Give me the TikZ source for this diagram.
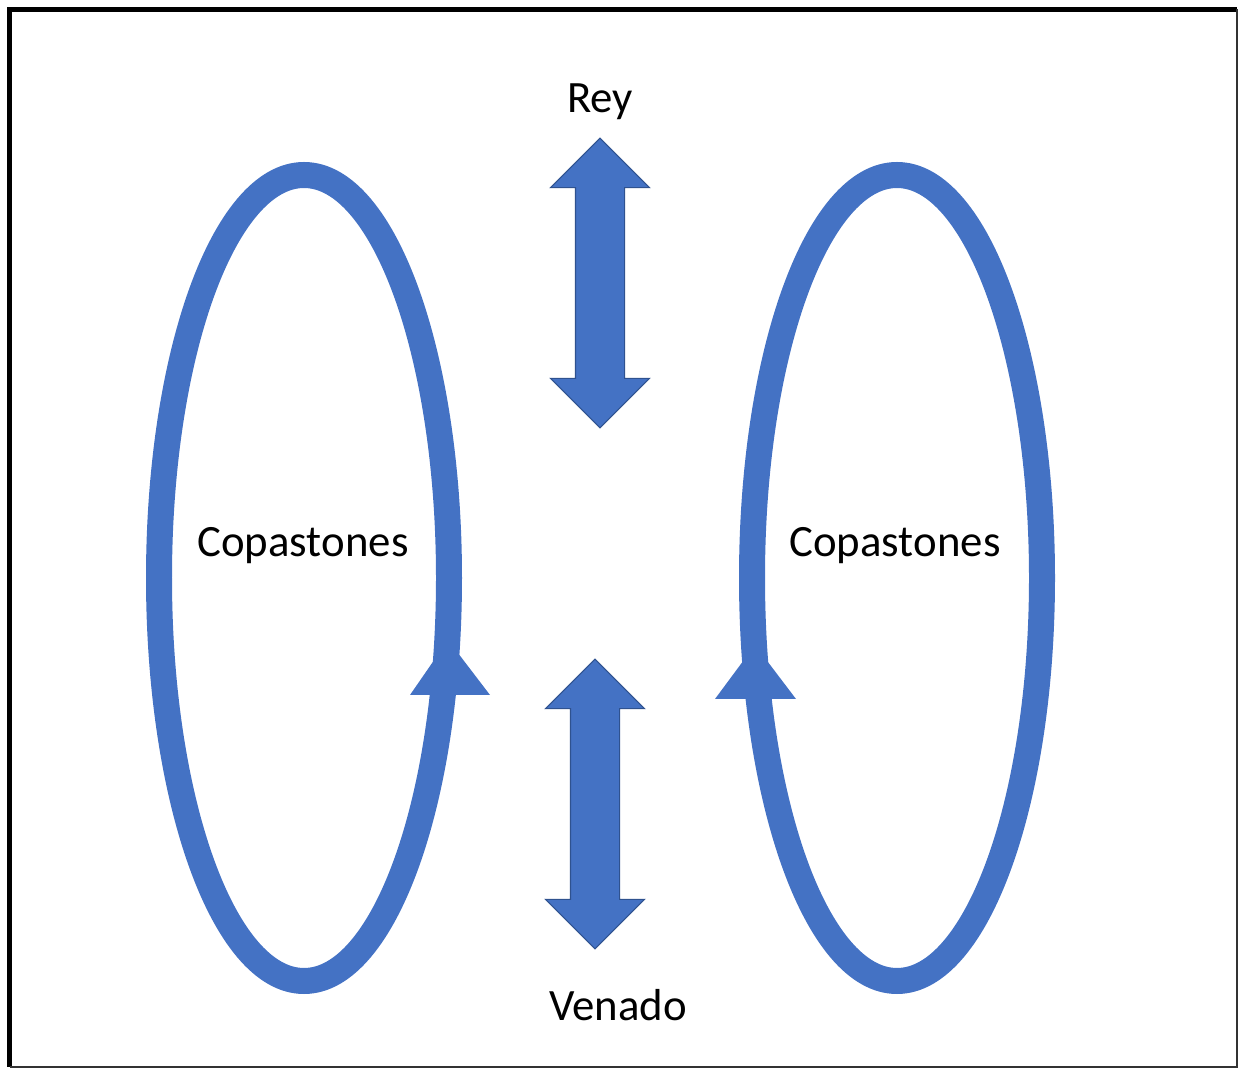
\documentclass[tikz,border=0pt]{standalone}
\usepackage{fontspec}
\setmainfont{Carlito}
\usepackage{tikz}
\usetikzlibrary{shapes.arrows,positioning}
\definecolor{loopblue}{HTML}{4472C4}
\definecolor{rimblue}{HTML}{2F528F}
\tikzstyle{tag} = [font=\fontsize{25.5}{30}\selectfont, text=black, inner sep=0pt, anchor=base]
\tikzstyle{loop} = [draw=loopblue, line width=0.52cm]
\tikzstyle{head} = [fill=loopblue]
\tikzstyle{updown} = [double arrow, rotate=90, fill=loopblue, draw=rimblue, line width=0.6pt, inner xsep=0pt, inner ysep=0.48cm, double arrow head extend=0.5cm, minimum height=5.8cm]

\begin{document}
\begin{tikzpicture}[x=0.02cm, y=-0.02cm]
		\useasboundingbox (0,0) rectangle (1241,1070);
		% Frame
		\draw [line width=0.1cm] (1237,9.5) -- (9.5,9.5) -- (9.5,1067);
		\draw [line width=0.05cm, black!80] (9.5,1067) -- (1237,1067) -- (1237,9.5);
		% Place nodes
		\node [tag] (rey) at (600,113) {Rey};
		\node [tag] (venado) at (618,1020) {Venado};
		\node [tag] (copleft) at (303,557) {Copastones};
		\node [tag] (copright) at (895,557) {Copastones};
		\node [updown] (reyarrow) at (600,283) {};
		\node [updown] (venadoarrow) at (595,804) {};
		% Draw loops
		\draw [loop] (304,578) ellipse [x radius=145, y radius=403];
		\draw [loop] (897,578) ellipse [x radius=145, y radius=403];
		\fill [head] (448,640) -- (490,695) -- (410,695) -- cycle;
		\fill [head] (755,645) -- (796,699) -- (715,699) -- cycle;
	\end{tikzpicture}
\end{document}
